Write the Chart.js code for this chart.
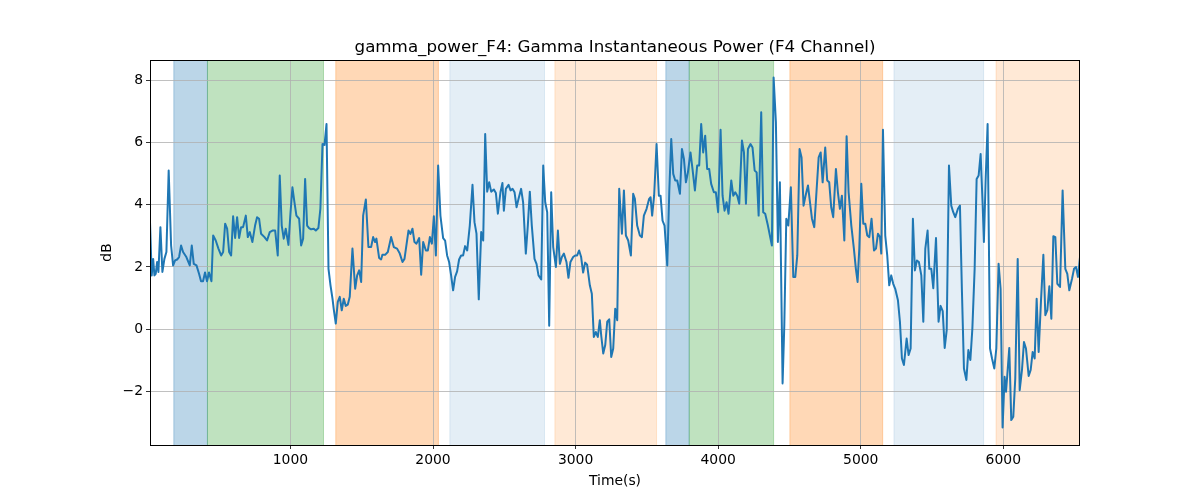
<!DOCTYPE html>
<html>
<head>
<meta charset="utf-8">
<script src="https://cdn.jsdelivr.net/npm/chart.js@4.4.0/dist/chart.umd.min.js"></script>
<style>
  html, body { margin: 0; padding: 0; background: #fff; }
  #wrap { width: 1200px; height: 500px; }
</style>
</head>
<body>
<div id="wrap"><canvas id="chart" width="1200" height="500"></canvas></div>
<script>
// Data
const times = [
  15, 27, 37, 46, 55, 65, 74, 88, 102, 116, 130, 146, 163, 177, 191, 205, 219, 233, 247, 270,
  294, 308, 322, 341, 359, 373, 387, 401, 415, 429, 446, 458, 476, 495, 514, 528, 542, 556, 570, 584,
  598, 612, 626, 640, 654, 668, 687, 701, 715, 733, 752, 766, 780, 794,
  799, 818, 836, 855, 874, 893, 911, 925, 939, 953, 967, 986, 1000, 1014, 1028, 1042, 1061, 1075, 1089, 1103,
  1117, 1131, 1145, 1164, 1178, 1196, 1210, 1225, 1239, 1253, 1267, 1281, 1295, 1304, 1318, 1332, 1346, 1360, 1374, 1388,
  1402, 1416, 1435, 1454, 1468, 1482, 1496, 1510, 1529, 1547, 1566, 1580, 1594, 1603, 1622, 1636,
  1645, 1664, 1683, 1706, 1725, 1748, 1767, 1786, 1800, 1828, 1842, 1856, 1870, 1884, 1903, 1917, 1931, 1950, 1964, 1978,
  1992, 2006, 2020, 2036, 2052, 2071, 2085, 2099, 2113, 2127, 2141, 2155, 2169, 2183, 2197, 2211, 2225, 2240, 2258, 2277,
  2291, 2305, 2321, 2338, 2352, 2366, 2380, 2394, 2408, 2427, 2441, 2455, 2473, 2487,
  2497, 2511, 2530, 2544, 2558, 2572, 2586, 2600, 2618, 2632, 2651, 2665, 2679, 2693, 2712, 2726, 2740, 2759, 2773, 2787,
  2801, 2815, 2829, 2843, 2862, 2876, 2890, 2904, 2918, 2936, 2950, 2964, 2983, 2997, 3011, 3025, 3039, 3053, 3067, 3081,
  3100, 3114, 3128, 3142, 3156, 3170, 3180, 3194, 3208, 3222, 3236, 3250, 3264, 3278, 3292, 3306, 3325, 3339,
  3353, 3369, 3388, 3404, 3416, 3432, 3451, 3465, 3479, 3498, 3516, 3526, 3537, 3551, 3568, 3584, 3596, 3610, 3624, 3643,
  3657, 3671, 3685, 3699, 3713, 3732, 3746, 3760, 3774, 3788, 3806, 3820, 3837, 3853, 3867, 3881, 3895, 3909, 3923, 3937,
  3951, 3970, 3984, 4000, 4017, 4031, 4045, 4059, 4073, 4092, 4106, 4120, 4134, 4148,
  4167, 4181, 4195, 4209, 4227, 4241, 4256, 4270, 4284, 4302, 4316, 4330, 4349, 4363, 4377, 4389, 4405, 4419, 4433, 4452,
  4464, 4478, 4492, 4510, 4527, 4541, 4555, 4571, 4585, 4599, 4613, 4630, 4644, 4658, 4674, 4691, 4705, 4719, 4733, 4751,
  4765, 4779, 4793, 4807, 4826, 4840, 4854, 4868, 4885, 4901, 4915, 4934, 4952, 4966, 4978, 4990, 5004,
  5018, 5032, 5046, 5060, 5076, 5093, 5107, 5121, 5135, 5144, 5156, 5172, 5186, 5200, 5214, 5228, 5242, 5261, 5275, 5289,
  5303, 5322, 5336, 5350, 5366, 5380, 5394, 5408, 5425, 5439, 5453, 5469, 5481, 5495, 5509, 5528, 5546, 5560, 5575, 5589,
  5603, 5619, 5635, 5649, 5663, 5682, 5696, 5710, 5724, 5741, 5755, 5769, 5783, 5799, 5813, 5827, 5841, 5855,
  5864, 5876, 5890, 5907, 5921, 5937, 5951, 5967, 5981, 5995, 6009, 6019, 6028, 6042, 6056, 6070, 6084, 6101, 6115, 6131,
  6145, 6159, 6178, 6192, 6206, 6220, 6234, 6248, 6264, 6281, 6295, 6309, 6323, 6337, 6351, 6365, 6379, 6398, 6416, 6435,
  6449, 6463, 6482, 6496, 6510, 6524, 6538
];
const power = [
  3.44, 1.73, 2.26, 1.73, 1.78, 2.16, 1.84, 3.28, 1.84, 2.26, 2.48, 5.10, 2.69, 2.05, 2.21, 2.24, 2.32, 2.69, 2.48, 2.32,
  2.05, 2.69, 2.10, 2.05, 1.78, 1.54, 1.54, 1.82, 1.54, 1.82, 1.54, 3.01, 2.85, 2.59, 2.37, 2.48, 3.39, 3.23, 2.48, 2.37,
  3.63, 2.93, 3.60, 2.93, 3.28, 3.28, 3.65, 2.96, 3.12, 2.80, 3.33, 3.60, 3.55, 3.07,
  3.07, 2.96, 2.85, 3.12, 3.17, 3.17, 2.37, 4.94, 3.33, 2.91, 3.23, 2.71, 3.71, 4.56, 4.08, 3.65, 3.55, 2.69, 2.91, 4.83,
  3.33, 3.25, 3.21, 3.23, 3.17, 3.25, 3.87, 5.95, 5.92, 6.59, 1.94, 1.41, 0.98, 0.64, 0.18, 0.88, 1.04, 0.61, 0.98, 0.75,
  0.79, 1.04, 2.59, 1.30, 1.73, 1.89, 1.52, 3.65, 4.17, 2.64, 2.64, 2.96, 2.80, 2.91, 2.29, 2.24,
  2.39, 2.39, 2.48, 2.96, 2.64, 2.59, 2.43, 2.16, 2.26, 3.17, 3.06, 3.23, 2.80, 2.75, 2.93, 1.75, 2.80, 2.53, 2.53, 2.96,
  2.75, 3.63, 2.37, 5.26, 3.65, 2.93, 2.85, 2.37, 2.16, 1.73, 1.25, 1.68, 1.86, 2.24, 2.37, 2.37, 2.67, 2.53, 3.33, 4.64,
  3.44, 3.07, 0.96, 3.12, 2.85, 6.27, 4.42, 4.72, 4.42, 4.49, 4.38, 3.71, 4.40, 4.70,
  3.81, 4.51, 4.64, 4.46, 4.51, 4.40, 3.92, 4.19, 4.51, 4.08, 2.43, 3.33, 4.42, 3.33, 2.26, 2.10, 1.73, 1.60, 5.26, 4.08,
  3.76, 0.11, 4.40, 2.64, 2.00, 3.17, 2.10, 2.32, 2.43, 2.16, 1.65, 2.16, 2.32, 2.37, 2.37, 2.53, 2.32, 1.82, 2.14, 2.07,
  1.41, 1.14, -0.25, -0.09, -0.25, 0.29, -0.21, -0.78, -0.51, 0.24, 0.32, -0.89, -0.62, 0.66, 0.29, 4.51, 3.07, 4.46,
  3.01, 2.85, 2.37, 4.35, 4.19, 3.33, 3.01, 2.96, 3.65, 3.87, 4.19, 4.24, 3.65, 4.29, 5.95, 4.29, 4.29, 3.49, 3.33, 2.05,
  4.40, 6.11, 4.99, 4.78, 4.78, 4.35, 5.79, 5.47, 4.72, 5.04, 5.68, 5.15, 4.46, 5.26, 5.26, 6.59, 5.68, 6.22, 5.15, 5.15,
  4.67, 4.40, 4.40, 3.76, 6.41, 4.29, 3.81, 4.08, 3.71, 4.78, 4.29, 4.40, 4.29, 4.03,
  6.06, 5.68, 4.03, 5.79, 5.95, 5.84, 5.10, 5.04, 3.65, 6.97, 3.76, 3.71, 3.33, 3.01, 2.69, 8.09, 6.65, 2.80, 4.72, -1.74,
  0.13, 3.55, 3.33, 4.56, 1.68, 1.68, 2.37, 5.79, 5.52, 3.97, 4.29, 4.62, 4.08, 3.55, 3.28, 4.51, 5.52, 5.68, 4.72, 5.84,
  4.78, 4.72, 3.92, 3.60, 5.15, 4.40, 3.87, 4.29, 2.85, 6.20, 4.40, 3.33, 2.59, 1.94, 1.52, 2.59, 4.67,
  3.39, 3.39, 3.01, 2.96, 3.55, 2.53, 2.59, 3.07, 2.96, 2.43, 6.41, 3.01, 2.37, 1.41, 1.73, 1.46, 1.30, 0.93, 0.24, -0.94,
  -1.15, -0.30, -0.83, -0.62, 3.55, 1.89, 2.21, 2.16, 1.73, 0.24, 2.59, 3.17, 1.94, 1.94, 1.32, 2.93, 0.24, 0.75, 0.58, -0.60,
  -0.03, 5.26, 3.97, 3.76, 3.60, 3.87, 3.97, 1.20, -1.26, -1.63, -0.67, -0.99, 0.02, 1.94, 4.83, 4.94, 5.63, 4.03,
  2.80, 4.78, 6.59, -0.62, -0.94, -1.26, -0.62, 2.10, 1.30, -3.16, -1.53, -2.01, -1.47, -0.60, -2.92, -2.81, -1.58, 2.26, -1.96, -1.31,
  -0.41, -0.62, -1.50, -1.31, -0.73, -0.94, 0.98, -0.73, 0.88, 2.39, 0.45, 0.61, 1.38, 0.34, 2.99, 2.96, 1.46, 1.36, 4.46, 1.94,
  1.78, 1.25, 1.62, 1.94, 2.00, 1.68, 2.32
];

// Shaded time windows
const spanStarts = [182, 418, 1318, 2118, 2855, 3633, 3797, 4503, 5233, 5949];
const spanEnds   = [418, 1232, 2038, 2782, 3568, 3797, 4389, 5154, 5862, 6538];
const spanColors = [
  'rgba(31,119,180,0.3)', 'rgba(44,160,44,0.3)', 'rgba(255,127,14,0.3)',
  'rgba(31,119,180,0.12)', 'rgba(255,127,14,0.17)',
  'rgba(31,119,180,0.3)', 'rgba(44,160,44,0.3)', 'rgba(255,127,14,0.3)',
  'rgba(31,119,180,0.12)', 'rgba(255,127,14,0.17)'
];

const xTicks = [1000, 2000, 3000, 4000, 5000, 6000];
const yTicks = [-2, 0, 2, 4, 6, 8];

const FONT = 'DejaVu Sans';

// Draw the shaded windows under the grid
const spansPlugin = {
    id: 'spans',
    beforeDraw(chart) {
        const ctx = chart.ctx;
        const area = chart.chartArea;
        const x = chart.scales.x;
        ctx.save();
        ctx.fillStyle = '#fff';
        ctx.fillRect(0, 0, chart.width, chart.height);
        ctx.beginPath();
        ctx.rect(area.left, area.top, area.right - area.left, area.bottom - area.top);
        ctx.clip();
        spanStarts.forEach((s, i) => {
            const x0 = x.getPixelForValue(s);
            const x1 = x.getPixelForValue(spanEnds[i]);
            ctx.fillStyle = spanColors[i];
            ctx.fillRect(x0, area.top, x1 - x0, area.bottom - area.top);
            ctx.strokeStyle = spanColors[i];
            ctx.lineWidth = 1;
            ctx.beginPath();
            ctx.moveTo(x0, area.top);
            ctx.lineTo(x0, area.bottom);
            ctx.moveTo(x1, area.top);
            ctx.lineTo(x1, area.bottom);
            ctx.stroke();
        });
        ctx.restore();
    }
};

// Frame, title and axis labels
const framePlugin = {
    id: 'frame',
    afterDraw(chart) {
        const ctx = chart.ctx;
        const area = chart.chartArea;
        ctx.save();
        ctx.strokeStyle = '#000';
        ctx.lineWidth = 1;
        ctx.strokeRect(Math.round(area.left) + 0.5, Math.round(area.top) + 0.5,
            Math.round(area.right - area.left) - 1, Math.round(area.bottom - area.top));
        ctx.fillStyle = '#000';
        ctx.textAlign = 'center';
        ctx.textBaseline = 'alphabetic';
        ctx.font = '16.7px "' + FONT + '"';
        ctx.fillText('gamma_power_F4: Gamma Instantaneous Power (F4 Channel)', (area.left + area.right) / 2, 52);
        ctx.font = '13.9px "' + FONT + '"';
        ctx.textBaseline = 'middle';
        ctx.fillText('Time(s)', (area.left + area.right) / 2, 481);
        ctx.translate(107, (area.top + area.bottom) / 2);
        ctx.rotate(-Math.PI / 2);
        ctx.fillText('dB', 0, 0);
        ctx.restore();
    }
};

const points = times.map((t, i) => ({ x: t, y: power[i] }));

const tickFont = { family: FONT, size: 13.9 };
const minus = v => String(v).replace('-', '\u2212');

new Chart(document.getElementById('chart'), {
    type: 'line',
    data: {
        datasets: [{
            data: points,
            borderColor: '#1f77b4',
            borderWidth: 2,
            borderJoinStyle: 'round',
            borderCapStyle: 'round',
            pointRadius: 0,
            tension: 0,
            fill: false
        }]
    },
    options: {
        responsive: false,
        animation: false,
        devicePixelRatio: 1,
        layout: { padding: { top: 60, right: 120, left: 0, bottom: 0 } },
        plugins: {
            legend: { display: false },
            tooltip: { enabled: false },
            title: { display: false }
        },
        scales: {
            x: {
                type: 'linear',
                min: 15,
                max: 6538,
                afterBuildTicks: axis => { axis.ticks = xTicks.map(v => ({ value: v })); },
                afterFit: axis => { axis.height = 55; },
                grid: { color: '#b0b0b0', lineWidth: 0.8, tickLength: 4, tickColor: '#000', drawTicks: true },
                border: { display: false },
                ticks: { color: '#000', font: tickFont, padding: 3, maxRotation: 0, autoSkip: false, callback: v => minus(v) }
            },
            y: {
                min: -3.72,
                max: 8.65,
                afterBuildTicks: axis => { axis.ticks = yTicks.map(v => ({ value: v })); },
                afterFit: axis => { axis.width = 150; },
                grid: { color: '#b0b0b0', lineWidth: 0.8, tickLength: 4, tickColor: '#000', drawTicks: true },
                border: { display: false },
                ticks: { color: '#000', font: tickFont, padding: 3, autoSkip: false, callback: v => minus(v) }
            }
        }
    },
    plugins: [spansPlugin, framePlugin]
});
</script>
</body>
</html>
